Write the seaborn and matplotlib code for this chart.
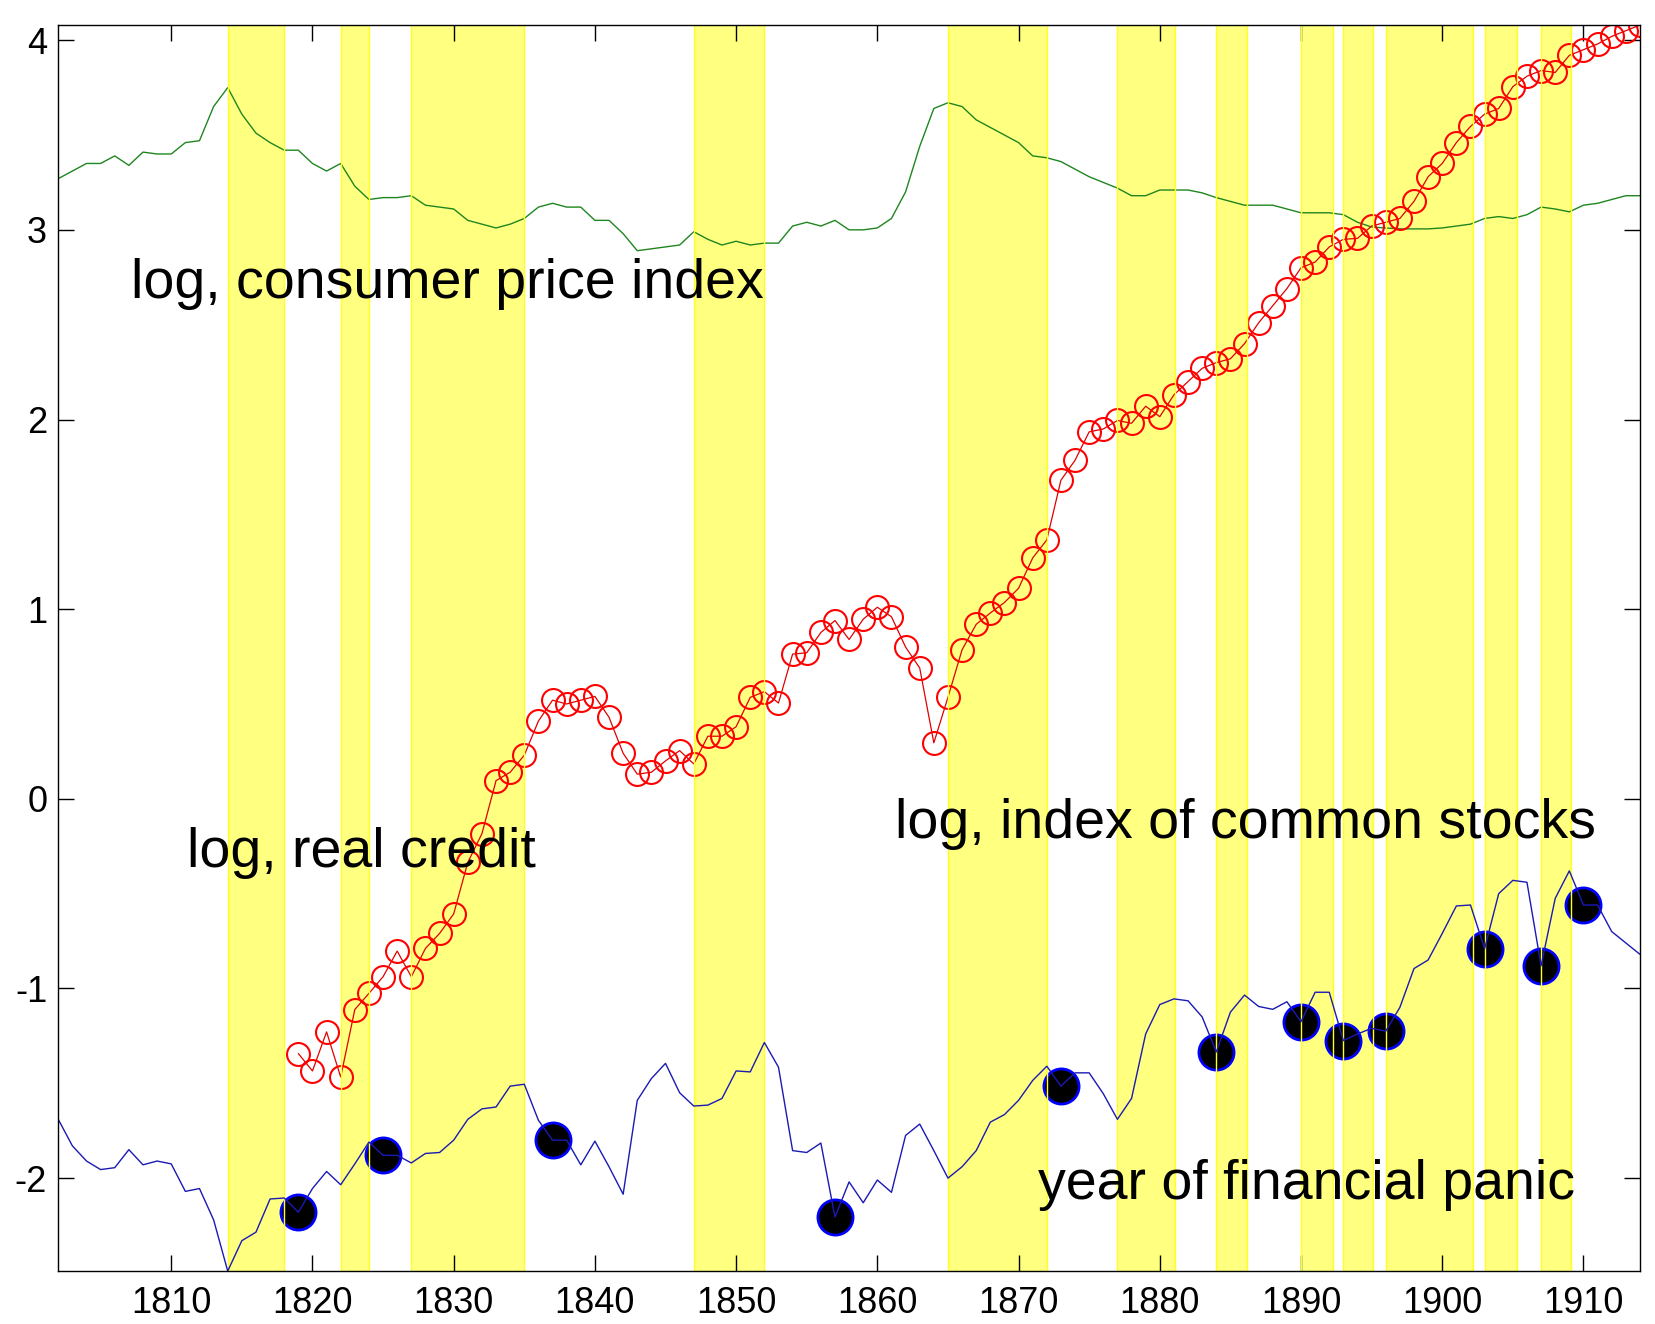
import numpy as np
import pandas as pd
import matplotlib
matplotlib.use("Agg")
import matplotlib.pyplot as plt
import seaborn as sns

# ---------------- data ----------------
years = list(range(1802, 1915))

cpi = [3.27, 3.31, 3.35, 3.35, 3.39, 3.34, 3.41, 3.40, 3.40, 3.46,
       3.47, 3.65, 3.75, 3.61, 3.51, 3.46, 3.42, 3.42, 3.35, 3.31,
       3.35, 3.23, 3.16, 3.17, 3.17, 3.18, 3.13, 3.12, 3.11, 3.05,
       3.03, 3.01, 3.03, 3.06, 3.12, 3.14, 3.12, 3.12, 3.05, 3.05,
       2.98, 2.89, 2.90, 2.91, 2.92, 2.99, 2.95, 2.92, 2.94, 2.92,
       2.93, 2.93, 3.02, 3.04, 3.02, 3.05, 3.00, 3.00, 3.01, 3.06,
       3.20, 3.44, 3.64, 3.67, 3.65, 3.58, 3.54, 3.50, 3.46, 3.39,
       3.38, 3.36, 3.32, 3.28, 3.25, 3.22, 3.18, 3.18, 3.21, 3.21,
       3.21, 3.195, 3.17, 3.15, 3.13, 3.13, 3.13, 3.11, 3.09, 3.09,
       3.09, 3.08, 3.04, 3.015, 3.01, 3.005, 3.005, 3.005, 3.01, 3.02,
       3.03, 3.06, 3.07, 3.06, 3.08, 3.12, 3.11, 3.095, 3.13, 3.14,
       3.16, 3.18, 3.18]

credit = [-1.69, -1.83, -1.91, -1.955, -1.945, -1.85, -1.93, -1.91, -1.925, -2.07,
          -2.055, -2.22, -2.49, -2.33, -2.285, -2.11, -2.105, -2.18, -2.055, -1.965,
          -2.035, -1.925, -1.81, -1.88, -1.88, -1.92, -1.87, -1.865, -1.80, -1.69,
          -1.635, -1.625, -1.515, -1.505, -1.695, -1.80, -1.80, -1.93, -1.805, -1.94,
          -2.085, -1.59, -1.475, -1.395, -1.55, -1.62, -1.615, -1.58, -1.435, -1.44,
          -1.285, -1.415, -1.855, -1.865, -1.815, -2.205, -2.02, -2.13, -2.01, -2.075,
          -1.775, -1.715, -1.855, -2.00, -1.94, -1.855, -1.705, -1.665, -1.59, -1.485,
          -1.41, -1.515, -1.445, -1.445, -1.555, -1.69, -1.58, -1.24, -1.085, -1.055,
          -1.065, -1.15, -1.335, -1.125, -1.035, -1.095, -1.11, -1.07, -1.175, -1.02,
          -1.02, -1.275, -1.24, -1.21, -1.225, -1.10, -0.895, -0.85, -0.71, -0.565,
          -0.56, -0.79, -0.50, -0.43, -0.44, -0.88, -0.525, -0.38, -0.56, -0.56,
          -0.70, -0.76, -0.82]

stock_years = list(range(1819, 1915))
stocks = [-1.343, -1.435, -1.229, -1.467, -1.111, -1.026, -0.938, -0.803, -0.938, -0.789,
          -0.71, -0.607, -0.335, -0.184, 0.096, 0.14, 0.23, 0.41, 0.52, 0.50,
          0.52, 0.54, 0.43, 0.24, 0.13, 0.14, 0.20, 0.254, 0.184, 0.33,
          0.33, 0.38, 0.535, 0.565, 0.505, 0.763, 0.77, 0.877, 0.94, 0.84,
          0.947, 1.01, 0.96, 0.80, 0.69, 0.295, 0.535, 0.786, 0.92, 0.98,
          1.035, 1.11, 1.27, 1.365, 1.68, 1.785, 1.935, 1.95, 1.995, 1.98,
          2.07, 2.015, 2.13, 2.20, 2.27, 2.30, 2.32, 2.40, 2.51, 2.60,
          2.69, 2.80, 2.83, 2.91, 2.95, 2.955, 3.02, 3.04, 3.06, 3.15,
          3.28, 3.35, 3.46, 3.545, 3.61, 3.64, 3.755, 3.81, 3.84, 3.83,
          3.92, 3.95, 3.98, 4.02, 4.05, 4.08]

panic_years = [1819, 1825, 1837, 1857, 1873, 1884, 1890, 1893, 1896, 1903, 1907, 1910]

band_starts = [1814, 1822, 1827, 1847, 1865, 1877, 1884, 1890, 1893, 1896, 1903, 1907]
band_ends = [1818, 1824, 1835, 1852, 1872, 1881.1, 1886.2, 1892.25, 1895.1, 1902.2, 1905.3, 1909.1]

x_ticks = list(range(1810, 1911, 10))
y_ticks = [-2, -1, 0, 1, 2, 3, 4]

labels = ["log, consumer price index", "log, real credit",
          "log, index of common stocks", "year of financial panic"]
label_x = [1807.15, 1811.1, 1861.25, 1871.35]
label_y = [2.64, -0.36, -0.205, -2.11]

# ---------------- style ----------------
sns.set_theme(style="white")
plt.rcParams["font.family"] = ["Liberation Sans", "DejaVu Sans"]

fig = plt.figure(figsize=(16.55, 13.24), dpi=100)
ax = fig.add_axes([0.0352, 0.0400, 0.9557, 0.9411])

df_main = pd.DataFrame({"year": years, "cpi": cpi, "credit": credit})
df_stock = pd.DataFrame({"year": stock_years, "stocks": stocks})
panic_df = df_main[df_main["year"].isin(panic_years)]

# recession bands
for s, e in zip(band_starts, band_ends):
    ax.axvspan(s, e, facecolor="#ffff80", edgecolor="none", zorder=0)
    for xe in (s, e):
        ax.axvline(xe, color="#ffff20", lw=1.0, zorder=4)

# consumer price index
sns.lineplot(data=df_main, x="year", y="cpi", ax=ax, color="#1f861f",
             lw=1.0, errorbar=None, sort=False, zorder=2)

# stocks (red circles)
sns.lineplot(data=df_stock, x="year", y="stocks", ax=ax, color="#e00000",
             lw=0.9, errorbar=None, sort=False, marker="o", markersize=16.5,
             markerfacecolor="none", markeredgecolor="#ff0000",
             markeredgewidth=1.5, zorder=3)

# panic dots
sns.scatterplot(data=panic_df, x="year", y="credit", ax=ax, s=640,
                color="black", edgecolor="#0000ff", linewidth=2.0, zorder=3)

# credit line on top
sns.lineplot(data=df_main, x="year", y="credit", ax=ax, color="#1a1ab4",
             lw=1.0, errorbar=None, sort=False, zorder=5)

for t, tx, ty in zip(labels, label_x, label_y):
    ax.text(tx, ty, t, fontsize=40, color="black", ha="left", va="baseline",
            zorder=6)

all_vals = cpi + credit + stocks
ax.set_xlim(min(years), max(years))
ax.set_ylim(min(all_vals), max(all_vals))
ax.set_xticks(x_ticks)
ax.set_yticks(y_ticks)
ax.set_xticklabels([str(v) for v in x_ticks])
ax.set_yticklabels([str(v) for v in y_ticks])
ax.set_xlabel("")
ax.set_ylabel("")
ax.tick_params(direction="in", length=11.5, width=1.0, colors="black",
               labelsize=26, top=True, right=True, bottom=True, left=True)
ax.tick_params(axis="x", pad=11)
ax.tick_params(axis="y", pad=8)
for sp in ax.spines.values():
    sp.set_color("black")
    sp.set_linewidth(1.0)
    sp.set_visible(True)
    sp.set_zorder(7)

fig.savefig("out.png", dpi=100, facecolor="white")
